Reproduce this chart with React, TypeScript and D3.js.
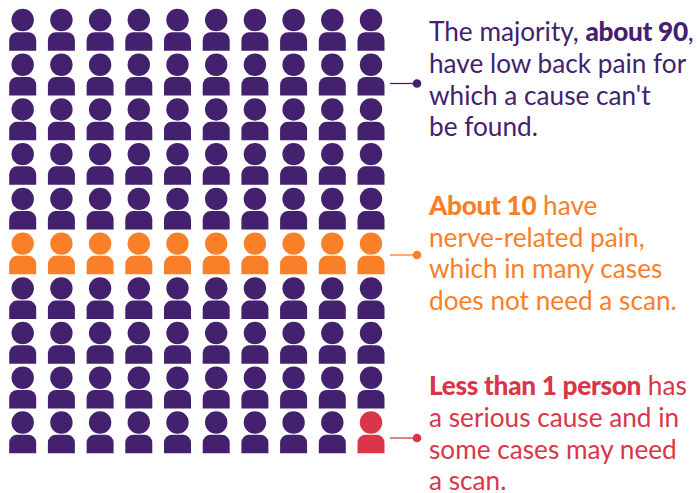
import React from "react";
import * as d3 from "d3";

const W = 697, H = 493;
const PURPLE = "#43216e", ORANGE = "#f98029", RED = "#d9364a";
const rows = d3.range(10);
const cols = d3.range(10);
const orangeRow = 5;
const redCell = [9, 9];

const x = d3.scaleLinear().domain([0, 9]).range([22.7, 371]);
const y = d3.scaleLinear().domain([0, 9]).range([20, 422.5]);

const HEAD_R = 11.2;
const BODY_W = 27, BODY_H = 18.5, BODY_R = 8;

function bodyPath(cx: number, top: number) {
  const l = cx - BODY_W / 2, r = cx + BODY_W / 2, b = top + BODY_H;
  const p = d3.path();
  p.moveTo(l, b);
  p.lineTo(l, top + BODY_R);
  p.arcTo(l, top, l + BODY_R, top, BODY_R);
  p.lineTo(r - BODY_R, top);
  p.arcTo(r, top, r, top + BODY_R, BODY_R);
  p.lineTo(r, b);
  p.closePath();
  return p.toString();
}

type Seg = { t: string; b?: boolean };
const block1: Seg[][] = [
  [{ t: "The majority, " }, { t: "about 90", b: true }, { t: "," }],
  [{ t: "have low back pain for" }],
  [{ t: "which a cause can't" }],
  [{ t: "be found." }],
];
const block2: Seg[][] = [
  [{ t: "About 10", b: true }, { t: " have" }],
  [{ t: "nerve-related pain," }],
  [{ t: "which in many cases" }],
  [{ t: "does not need a scan." }],
];
const block3: Seg[][] = [
  [{ t: "Less than 1 person", b: true }, { t: " has" }],
  [{ t: "a serious cause and in" }],
  [{ t: "some cases may need" }],
  [{ t: "a scan." }],
];
const blocks = [
  { lines: block1, color: PURPLE, y0: 41, ly: 83.5 },
  { lines: block2, color: ORANGE, y0: 215, ly: 255 },
  { lines: block3, color: RED, y0: 395, ly: 438 },
];

const TEXT_X = 429;
const LINE_H = 31.8;

export default function App() {
  return (
    <svg width={W} height={H} viewBox={`0 0 ${W} ${H}`}
      style={{ position: "absolute", left: 0, top: 0, background: "#fff" }}>
      {rows.map((r) =>
        cols.map((c) => {
          const color = r === redCell[0] && c === redCell[1] ? RED : r === orangeRow ? ORANGE : PURPLE;
          const cx = x(c), cy = y(r);
          return (
            <g key={`${r}-${c}`} fill={color}>
              <circle cx={cx} cy={cy} r={HEAD_R} />
              <path d={bodyPath(cx, cy + 12.2)} />
            </g>
          );
        })
      )}
      {blocks.map((b, i) => (
        <g key={i}>
          <line x1={390} x2={416} y1={b.ly} y2={b.ly} stroke={b.color} strokeWidth={1.3} />
          <circle cx={417} cy={b.ly} r={4.3} fill={b.color} />
          <text fontFamily="Lato" fontSize={26.2} fill={b.color}>
            {b.lines.map((segs, j) => (
              <tspan key={j} x={TEXT_X} y={b.y0 + j * (i === 1 ? 31.5 : LINE_H)}>
                {segs.map((s, k) => (
                  <tspan key={k} fontWeight={s.b ? 900 : 400} letterSpacing={s.b ? -0.3 : 0}>{s.t}</tspan>
                ))}
              </tspan>
            ))}
          </text>
        </g>
      ))}
    </svg>
  );
}
